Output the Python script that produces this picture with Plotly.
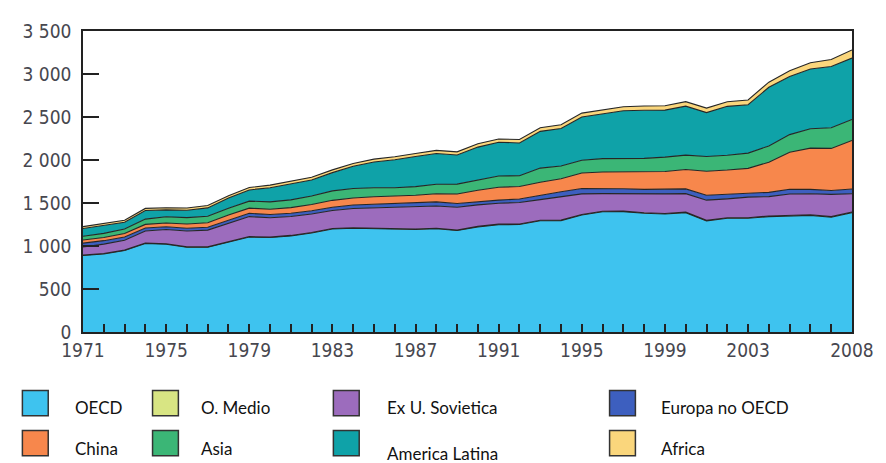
import plotly.graph_objects as go

# ---------------- data ----------------
years = list(range(1971, 2009))

oecd = [890, 908, 948, 1030, 1022, 985, 985, 1048, 1105, 1098,
        1118, 1152, 1198, 1206, 1200, 1192, 1192, 1202, 1180, 1222,
        1248, 1250, 1293, 1295, 1360, 1398, 1400, 1380, 1372, 1388,
        1292, 1322, 1322, 1342, 1348, 1356, 1335, 1388]
o_medio = [4, 4, 4, 4, 4, 5, 5, 5, 5, 5,
           5, 5, 5, 5, 5, 5, 5, 5, 5, 6,
           6, 6, 6, 6, 6, 6, 6, 6, 6, 6,
           6, 6, 6, 7, 7, 7, 7, 7]
ex_urss = [95, 110, 115, 140, 165, 185, 195, 215, 232, 225,
           220, 215, 210, 225, 240, 250, 260, 258, 265, 250,
           243, 250, 240, 270, 240, 205, 200, 215, 228, 215,
           235, 220, 240, 225, 250, 245, 258, 212]
europa_no_oecd = [45, 40, 38, 35, 32, 32, 33, 35, 38, 38,
                  38, 38, 38, 40, 42, 45, 48, 48, 45, 40,
                  37, 40, 52, 60, 62, 62, 60, 58, 55, 55,
                  57, 50, 45, 50, 55, 50, 45, 55]
china = [35, 37, 40, 42, 45, 48, 52, 57, 60, 62,
         65, 72, 80, 82, 85, 85, 85, 95, 110, 130,
         150, 145, 150, 150, 180, 190, 195, 200, 205, 225,
         280, 285, 290, 350, 430, 480, 490, 565]
asia = [45, 48, 52, 62, 72, 75, 76, 80, 82, 85,
        90, 100, 110, 110, 105, 100, 100, 110, 115, 122,
        130, 125, 165, 150, 150, 155, 158, 160, 168, 168,
        170, 172, 177, 190, 205, 225, 240, 245]
america_latina = [89, 96, 80, 100, 80, 85, 97, 117, 130, 165,
                  188, 186, 212, 259, 299, 326, 350, 358, 338, 380,
                  393, 382, 427, 435, 502, 520, 553, 559, 546, 569,
                  511, 569, 563, 681, 677, 695, 713, 713]
africa = [22, 22, 23, 24, 25, 26, 27, 28, 28, 30,
          31, 32, 32, 33, 34, 35, 35, 36, 37, 38,
          38, 40, 42, 44, 45, 47, 48, 50, 50, 52,
          53, 54, 55, 60, 65, 72, 80, 95]

series_names = ["OECD", "O. Medio", "Ex U. Sovietica", "Europa no OECD",
                "China", "Asia", "America Latina", "Africa"]
series_values = [oecd, o_medio, ex_urss, europa_no_oecd,
                 china, asia, america_latina, africa]

x_label_years = [1971, 1975, 1979, 1983, 1987, 1991, 1995, 1999, 2003, 2008]
y_tick_values = [0, 500, 1000, 1500, 2000, 2500, 3000, 3500]
y_tick_labels = ["0", "500", "1 000", "1 500", "2 000", "2 500", "3 000", "3 500"]

# ---------------- styles ----------------
colors = ["#3ec3ef", "#d8e583", "#9c6cbd", "#3d5fbf",
          "#f7874c", "#3bb676", "#0fa2a8", "#fad67c"]
edge = "#262626"
tick_font = dict(family="DejaVu Sans Condensed", size=19, color="#47474f")

# the page body has an 8px margin: lay the figure out in page pixels
OFF = 8
W, H = 886 - OFF, 463 - OFF
PL, PR, PT, PB = 83, 857, 23, 332          # plot area in page pixels
ML, MR, MT, MB = PL - OFF, W - (PR - OFF), PT - OFF, H - (PB - OFF)
PW, PH = W - ML - MR, H - MT - MB


def px_x(px):          # page pixel -> paper x
    return (px - OFF - ML) / PW


def px_y(py):          # page pixel -> paper y
    return (PB - py) / PH


fig = go.Figure()
for name, vals, col in zip(series_names, series_values, colors):
    fig.add_trace(go.Scatter(
        x=years, y=vals, name=name, stackgroup="one", mode="lines",
        line=dict(color=edge, width=1.1), fillcolor=col,
        showlegend=False, hoverinfo="x+y+name"))

# ---------------- custom legend (2 rows x 4 columns) ----------------
col_swatch_x = [22, 153, 335, 613]
col_text_x = [73, 200, 387, 663]
row_swatch_y = [392, 433]
row_text_y = [410, 452]
swatch = 26
shapes = []
annotations = []
for i, (name, col) in enumerate(zip(series_names, colors)):
    r, c = divmod(i, 4)
    x0 = col_swatch_x[c]
    y0 = row_swatch_y[r]
    shapes.append(dict(type="rect", xref="paper", yref="paper",
                       x0=px_x(x0), x1=px_x(x0 + swatch),
                       y0=px_y(y0 + swatch), y1=px_y(y0),
                       fillcolor=col, line=dict(color="#333333", width=1.5)))
    ty = row_text_y[r] + (5 if name == "America Latina" else 0)
    annotations.append(dict(xref="paper", yref="paper", x=px_x(col_text_x[c]),
                            y=px_y(ty), xanchor="left", yanchor="middle",
                            text=name, showarrow=False,
                            font=dict(family="Lato", size=17, color="#111111")))

fig.update_layout(
    width=W, height=H,
    margin=dict(l=ML, r=MR, t=MT, b=MB, pad=0),
    paper_bgcolor="white", plot_bgcolor="white",
    shapes=shapes, annotations=annotations,
    showlegend=False,
    xaxis=dict(range=[1971, 2008], tickmode="array", tickvals=years,
               ticktext=[str(y) if y in x_label_years else "" for y in years],
               ticks="inside", ticklen=8, tickwidth=1.5, tickcolor="#222222",
               showline=True, mirror=True, linecolor="#222222", linewidth=1.6,
               showgrid=False, zeroline=False, tickfont=tick_font),
    yaxis=dict(range=[0, 3500], tickmode="array", tickvals=y_tick_values,
               ticktext=y_tick_labels,
               ticks="inside", ticklen=16, tickwidth=1.5, tickcolor="#222222",
               ticklabelstandoff=6,
               showline=True, mirror=True, linecolor="#222222", linewidth=1.6,
               showgrid=False, zeroline=False, tickfont=tick_font),
)

fig.write_html("out.html")
